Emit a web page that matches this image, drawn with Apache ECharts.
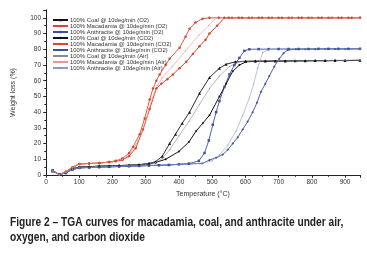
<!DOCTYPE html>
<html>
<head>
<meta charset="utf-8">
<style>
  html, body { margin: 0; padding: 0; background: #fff; }
  #chart { width: 367px; height: 253px; }
</style>
<script src="https://cdn.jsdelivr.net/npm/echarts@6/dist/echarts.min.js"></script>
</head>
<body>
<div id="chart"></div>
<script>
// TGA curves — weight loss vs temperature for three fuels under three gases.

const xTicks = [0, 100, 200, 300, 400, 500, 600, 700, 800, 900];
const yTicks = [0, 10, 20, 30, 40, 50, 60, 70, 80, 90, 100];

// shared low-temperature part (drying) is repeated per series on purpose
const coalO2T  = [20, 40, 60, 80, 100, 130, 160, 190, 220, 250, 280, 310, 330, 350, 372, 390, 410, 432, 462, 492, 522, 542, 570, 600, 630, 660, 690, 720, 750, 780, 810, 840, 870, 900, 945];
const coalO2W  = [2.5, 0.3, 1.5, 4, 5, 5.3, 5.6, 5.8, 6, 6.2, 6.6, 7.4, 8.5, 12, 20, 26, 33, 40, 52, 62, 68, 70.5, 72, 72.4, 72.5, 72.5, 72.6, 72.6, 72.7, 72.7, 72.8, 72.8, 72.9, 72.9, 73];
const coalAirT = [20, 40, 60, 80, 100, 150, 200, 250, 300, 330, 350, 372, 400, 430, 462, 492, 522, 552, 582, 610, 650, 700, 750, 800, 850, 900, 945];
const coalAirW = [2.5, 0.3, 1.5, 4, 5, 5.5, 5.8, 6.1, 6.9, 8, 10.5, 16, 25, 34, 45, 55, 63, 69, 72, 72.5, 72.6, 72.7, 72.7, 72.8, 72.8, 72.9, 73];
const coalCO2T = [20, 40, 60, 80, 100, 130, 160, 190, 220, 250, 280, 310, 330, 360, 400, 430, 452, 472, 492, 522, 542, 562, 582, 602, 630, 660, 690, 720, 750, 780, 810, 840, 870, 900, 945];
const coalCO2W = [2.5, 0.3, 1.5, 4, 5, 5.3, 5.6, 5.8, 6, 6.2, 6.5, 7, 8, 10, 15, 21, 28, 33, 38, 50, 58, 66, 70, 72, 72.3, 72.4, 72.5, 72.5, 72.6, 72.6, 72.7, 72.7, 72.8, 72.8, 72.9];

const macO2T  = [20, 40, 60, 80, 100, 130, 160, 190, 210, 230, 250, 262, 282, 297, 312, 322, 332, 342, 360, 372, 402, 420, 432, 450, 471, 492, 520, 550, 580, 610, 640, 670, 700, 730, 760, 790, 820, 850, 880, 910, 945];
const macO2W  = [2.5, 0.3, 2, 5, 7, 7.3, 7.6, 8.3, 9, 10.5, 14, 18, 26, 36, 48, 55, 60, 64, 70, 74, 81, 88, 93, 97, 99.5, 100, 100, 100, 100, 100, 100, 100, 100, 100, 100, 100, 100, 100, 100, 100, 100];
const macAirT = [20, 40, 60, 80, 100, 150, 200, 230, 250, 270, 290, 305, 320, 335, 350, 380, 420, 460, 490, 512, 560, 620, 680, 740, 800, 860, 945];
const macAirW = [2.5, 0.3, 2, 5, 7, 7.5, 8.3, 10, 13, 19, 28, 38, 49, 57, 62, 69, 79, 89, 95, 100, 100, 100, 100, 100, 100, 100, 100];
const macCO2T = [20, 40, 60, 80, 100, 130, 160, 190, 210, 230, 250, 270, 292, 312, 332, 347, 365, 382, 402, 422, 442, 462, 480, 492, 515, 537, 560, 590, 620, 650, 680, 710, 740, 770, 800, 830, 860, 890, 920, 945];
const macCO2W = [2.5, 0.3, 2, 5, 7, 7.3, 7.6, 8.2, 8.8, 9.5, 12, 17, 29, 42, 55, 58, 61, 64, 68, 72, 77, 82, 86, 90, 95, 100, 100, 100, 100, 100, 100, 100, 100, 100, 100, 100, 100, 100, 100, 100];

const anthO2T  = [20, 40, 60, 80, 100, 130, 160, 190, 220, 250, 280, 310, 340, 370, 400, 430, 460, 477, 490, 502, 512, 522, 537, 552, 567, 582, 597, 612, 640, 670, 700, 730, 760, 790, 820, 850, 880, 910, 945];
const anthO2W  = [3, 0.3, 1.5, 3.5, 4.5, 4.8, 5, 5.2, 5.4, 5.6, 5.8, 6, 6.2, 6.4, 6.8, 7.2, 9, 14, 22, 32, 40, 47, 56, 64, 70, 74.5, 79, 80, 80.1, 80.1, 80.2, 80.2, 80.2, 80.2, 80.3, 80.3, 80.3, 80.3, 80.3];
const anthAirT = [20, 40, 60, 80, 100, 150, 200, 250, 300, 350, 400, 440, 470, 500, 522, 547, 572, 592, 612, 625, 637, 652, 672, 720, 780, 840, 900, 945];
const anthAirW = [3, 0.3, 1.5, 3.5, 4.5, 5, 5.3, 5.6, 6, 6.3, 6.8, 7.2, 7.5, 9, 12.7, 19, 28, 38, 49, 58, 68, 78, 80, 80.1, 80.2, 80.2, 80.3, 80.3];
const anthCO2T = [20, 40, 60, 80, 100, 130, 160, 190, 220, 250, 280, 310, 340, 370, 400, 430, 470, 492, 512, 532, 547, 562, 577, 592, 607, 622, 635, 647, 660, 672, 687, 702, 715, 727, 752, 780, 810, 840, 870, 900, 945];
const anthCO2W = [3, 0.3, 1.5, 3.5, 4.5, 4.8, 5, 5.2, 5.4, 5.6, 5.8, 6, 6.2, 6.4, 6.8, 7.1, 7.3, 9.5, 11, 13, 16, 20, 24, 29, 34, 40, 46, 53, 58, 63, 69, 74, 77.5, 79.5, 80, 80.1, 80.1, 80.2, 80.2, 80.2, 80.3];

const seriesNames = [
  "100% Coal @ 10deg/min (O2)",
  "100% Macadamia @ 10deg/min (O2)",
  "100% Anthracite @ 10deg/min (O2)",
  "100% Coal @ 10deg/min (CO2)",
  "100% Macadamia @ 10deg/min (CO2)",
  "100% Anthracite @ 10deg/min (CO2)",
  "100% Coal @ 10deg/min (Air)",
  "100% Macadamia @ 10deg/min (Air)",
  "100% Anthracite @ 10deg/min (Air)",
];

const captionLines = [
  "Figure 2 – TGA curves for macadamia, coal, and anthracite under air,",
  "oxygen, and carbon dioxide",
];

const zip = (xs, ys) => xs.map((x, i) => [x, ys[i]]);

function line(name, T, W, color, symbol, size, width) {
  return {
    name, type: "line", data: zip(T, W),
    symbol, symbolSize: size, showSymbol: true,
    itemStyle: { color },
    lineStyle: { color, width },
    animation: false,
    z: 3,
  };
}

const black = "#151515", red = "#d8472e", blue = "#3d4f9e";
const grey = "#8a8a8a", lred = "#e79a8c", lblue = "#8e98cf";

const axisFont = { fontFamily: "Liberation Sans, Arial, sans-serif", fontSize: 6.5, color: "#333" };

const chart = echarts.init(document.getElementById("chart"), null, { renderer: "canvas" });
chart.setOption({
  backgroundColor: "#fff",
  animation: false,
  grid: { left: 46, right: 7, top: 10, bottom: 78 },
  legend: {
    orient: "vertical", left: 47, top: 12,
    itemWidth: 15, itemHeight: 3, itemGap: 0,
    textStyle: { fontFamily: "Liberation Sans, Arial, sans-serif", fontSize: 5.9, lineHeight: 5.5, color: "#333", padding: [0, 0, 0, -3] },
    data: seriesNames,
  },
  xAxis: [{
    type: "value", min: 0, max: 945, interval: 100,
    name: "Temperature (°C)", nameLocation: "middle", nameGap: 14,
    nameTextStyle: { ...axisFont, fontSize: 7 },
    axisLine: { lineStyle: { color: "#222", width: 1 } },
    axisTick: { inside: false, length: 2.5, lineStyle: { color: "#222" } },
    minorTick: { show: true, splitNumber: 2, length: 1.5, lineStyle: { color: "#222" } },
    axisLabel: { ...axisFont, margin: 4, formatter: v => xTicks.includes(v) ? String(v) : "" },
    splitLine: { show: false },
  }, {
    type: "value", min: 0, max: 945, interval: 100, position: "top",
    axisLine: { lineStyle: { color: "#222" } },
    axisTick: { inside: true, length: 2.5, lineStyle: { color: "#222" } },
    minorTick: { show: true, splitNumber: 2, length: 1.5, lineStyle: { color: "#222" } },
    axisLabel: { show: false }, splitLine: { show: false },
  }],
  yAxis: [{
    type: "value", min: 0, max: 105, interval: 10,
    name: "Weight loss (%)", nameLocation: "middle", nameGap: 29,
    nameTextStyle: { ...axisFont, fontSize: 7 },
    axisLine: { show: true, lineStyle: { color: "#222" } },
    axisTick: { show: true, length: 2.5, lineStyle: { color: "#222" } },
    minorTick: { show: true, splitNumber: 2, length: 1.5, lineStyle: { color: "#222" } },
    axisLabel: { ...axisFont, margin: 5, formatter: v => yTicks.includes(v) ? String(v) : "" },
    splitLine: { show: false },
  }, {
    type: "value", min: 0, max: 105, interval: 10, position: "right",
    axisLine: { show: true, lineStyle: { color: "#222" } },
    axisTick: { show: true, inside: true, length: 2.5, lineStyle: { color: "#222" } },
    minorTick: { show: true, splitNumber: 2, length: 1.5, lineStyle: { color: "#222" } },
    axisLabel: { show: false }, splitLine: { show: false },
  }],
  series: [
    line(seriesNames[0], coalO2T, coalO2W, black, "triangle", 3, 0.9),
    line(seriesNames[1], macO2T, macO2W, red, "circle", 2.5, 0.9),
    line(seriesNames[2], anthO2T, anthO2W, blue, "rect", 2.5, 0.9),
    line(seriesNames[3], coalCO2T, coalCO2W, black, "circle", 2, 1),
    line(seriesNames[4], macCO2T, macCO2W, red, "circle", 2.5, 1),
    line(seriesNames[5], anthCO2T, anthCO2W, blue, "diamond", 2.5, 0.9),
    line(seriesNames[6], coalAirT, coalAirW, grey, "circle", 1.2, 0.6),
    line(seriesNames[7], macAirT, macAirW, lred, "circle", 1.2, 0.6),
    line(seriesNames[8], anthAirT, anthAirW, lblue, "circle", 1.2, 0.6),
  ],
  graphic: captionLines.map((t, i) => ({
    type: "text", x: 10, y: 217 + i * 15, scaleX: 0.85,
    style: { text: t, fill: "#222", font: "bold 12px 'Liberation Sans', Arial, sans-serif" },
  })),
});
</script>
</body>
</html>
